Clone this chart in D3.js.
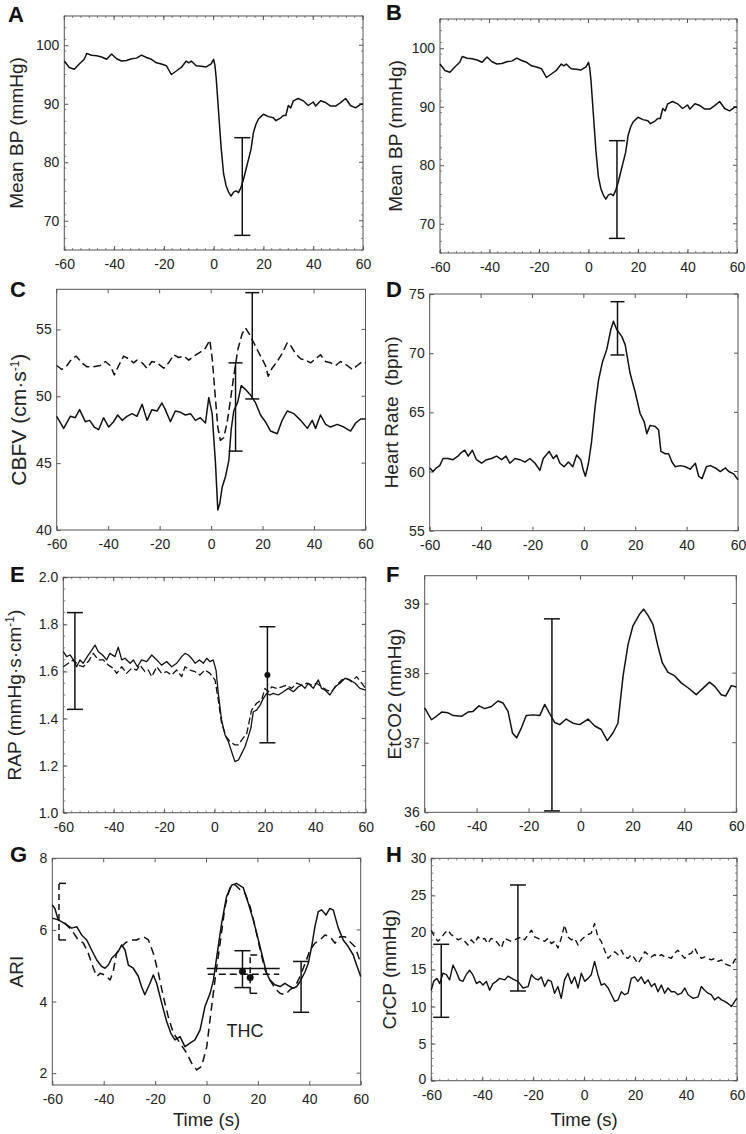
<!DOCTYPE html>
<html><head><meta charset="utf-8">
<script src="https://cdn.jsdelivr.net/npm/d3@7"></script>
<style>body{margin:0;background:#fff}</style>
</head><body><svg id="c" width="746" height="1134"></svg>
<script>
// ---------------- DATA ----------------
const xTicks = [-60,-40,-20,0,20,40,60];
const bpTicks = [70,80,90,100];
const cbfvTicks = [40,45,50,55];
const hrTicks = [55,60,65,70,75];
const rapTicks = [1.0,1.2,1.4,1.6,1.8,2.0];
const co2Ticks = [36,37,38,39];
const ariTicks = [2,4,6,8];
const crcpTicks = [0,5,10,15,20,25,30];

// Mean BP (panels A and B)
const bpT = [-60,-58,-56,-54,-52,-51,-49,-47,-45,-43,-41,-39,-37,-35,-33,-31,-29,-27,-25,-23,-21,-19,-17,-15,-13,-11,-10,-9,-7,-5,-3,-1,0,0.5,1,2,3,4,5,6,7,8,9,10,11,12,13,14,15,16,17,18,19,20,22,24,25,27,28,29,30,31,32,34,36,38,40,41,43,45,47,49,51,53,55,57,59,60];
const bpV = [97.3,96.2,95.9,96.8,97.6,98.6,98.3,98.2,98.0,97.6,98.5,97.7,97.3,97.4,97.7,97.8,98.3,97.9,97.6,97.0,96.8,96.5,95.0,95.6,96.2,97.3,97.0,97.3,96.5,96.4,96.3,96.8,97.6,96.6,94.5,88.5,82.5,78.0,76.0,74.9,74.2,74.9,75.1,74.8,75.7,77.1,78.8,80.5,82.2,85.1,86.5,87.4,87.8,88.2,87.8,87.6,87.1,87.6,88.0,88.0,89.7,89.3,90.5,90.9,90.5,89.7,90.3,89.6,90.5,90.2,89.6,89.6,90.2,90.9,89.7,89.3,89.9,89.9];

// CBFV (panel C)
const cbfvSolidT = [-60,-57.3,-54.7,-52.8,-51.1,-48.9,-47.2,-45.4,-43.7,-41.8,-39.8,-37.9,-36.3,-34.6,-32.7,-30.7,-28.8,-26.8,-24.9,-23.0,-21.0,-19.1,-17.8,-15.8,-13.9,-11.9,-10.0,-8.0,-6.1,-4.2,-2.2,-0.9,0.4,1.7,2.6,3.4,4.3,5.6,6.9,7.8,8.8,10.4,11.7,13.4,15.3,17.3,19.2,21.1,23.1,25.7,27.6,29.6,32.2,34.8,37.4,39.3,40.6,42.5,44.5,46.4,49.0,51.6,54.2,56.2,58.1,60];
const cbfvSolidV = [48.5,47.6,48.5,48.4,49.0,48.1,48.2,47.7,47.5,48.4,47.7,48.1,48.6,48.2,48.5,48.7,48.5,49.4,48.2,49.0,48.9,49.5,49.0,48.1,48.9,48.8,48.6,48.7,48.2,48.4,48.0,49.9,48.7,45.0,41.5,42.0,43.2,44.0,45.2,47.5,48.9,49.6,50.8,50.5,50.1,49.5,48.6,48.1,47.4,47.2,48.2,48.9,48.7,48.2,47.6,48.2,47.6,48.6,47.9,47.7,47.9,47.7,47.4,48.0,48.3,48.3];
const cbfvDashT = [-60,-58.0,-56.0,-54.1,-52.4,-50.2,-48.2,-45.7,-43.1,-41.1,-39.2,-37.6,-35.9,-34.0,-32.0,-30.1,-28.8,-26.8,-24.9,-23.0,-21.0,-18.4,-16.5,-14.5,-12.6,-10.6,-8.7,-6.7,-4.2,-2.2,-0.5,0.5,1.4,2.6,3.6,4.9,6.2,7.5,8.8,10.4,12.1,13.4,14.7,16.3,17.9,19.8,21.1,22.2,23.7,25.7,27.6,29.6,30.9,32.8,34.8,36.7,38.7,40.6,42.5,44.5,46.4,48.4,50.3,52.9,54.9,56.8,58.8,60];
const cbfvDashV = [52.3,52.0,52.3,52.8,53.0,52.5,52.2,52.2,52.3,52.6,52.3,51.6,52.3,53.0,52.8,52.5,52.7,52.5,52.1,52.6,52.5,52.1,52.5,53.1,52.9,53.0,52.7,53.0,53.3,53.6,54.2,52.7,50.5,47.7,46.7,46.9,48.0,49.7,51.5,53.5,54.7,55.1,54.7,54.1,53.5,52.8,52.3,51.5,52.1,52.6,53.2,54.0,53.8,53.2,52.8,52.7,52.5,52.8,53.1,52.6,52.5,52.3,52.6,52.3,52.0,52.3,52.6,52.5];

// Heart rate (panel D)
const hrT = [-60,-58.7,-57.4,-56.1,-54.8,-52.9,-50.9,-49.0,-47.7,-46.4,-45.0,-43.4,-41.8,-39.8,-37.9,-35.9,-34.0,-32.0,-30.3,-28.8,-26.8,-24.9,-22.9,-21.0,-19.0,-17.1,-15.8,-13.5,-11.9,-10.6,-9.3,-7.7,-6.0,-4.3,-2.8,-1.2,-0.2,0.6,1.8,3.0,4.4,5.7,7.3,8.9,10.5,11.5,12.8,14.8,16.1,18.0,20.0,21.9,23.5,24.5,25.8,27.8,29.1,30.0,31.7,33.0,34.3,35.6,37.5,39.5,41.4,43.4,44.7,46.0,47.7,49.2,51.2,53.1,55.1,56.4,58.3,60];
const hrV = [60.3,60.0,60.3,60.5,61.1,61.1,61.0,61.3,61.6,61.8,61.3,61.8,61.0,60.7,61.0,61.1,61.3,61.0,61.3,60.7,61.1,61.0,60.8,61.1,60.7,60.1,61.1,61.7,61.1,61.4,60.7,60.4,60.8,60.4,61.4,61.0,60.1,59.6,60.7,62.5,65.5,67.7,69.3,70.3,72.0,72.7,72.0,71.4,70.7,68.3,66.7,64.9,64.2,63.2,63.9,63.8,63.5,61.7,61.5,61.5,60.8,60.4,60.5,60.4,60.2,60.7,59.6,59.4,60.4,60.5,60.3,60.0,60.3,60.0,59.8,59.3];

// RAP (panel E)
const rapSolidT = [-60,-58.7,-57.3,-56.0,-54.7,-53.4,-52.1,-50.5,-48.7,-47.4,-46.1,-44.4,-42.8,-41.5,-39.5,-38.2,-36.8,-35.5,-33.5,-32.2,-30.6,-28.9,-26.9,-24.9,-22.9,-21.0,-19.0,-17.0,-15.0,-13.0,-11.7,-10.4,-9.1,-7.7,-6.0,-4.4,-3.1,-1.8,-0.5,0.6,1.5,2.8,4.2,5.5,6.8,8.1,9.5,10.8,12.1,13.4,14.4,15.4,16.7,18.1,19.4,20.7,22.0,23.3,25.3,27.3,29.3,31.3,33.3,34.6,35.9,37.2,39.2,41.2,42.5,43.9,45.8,47.8,49.8,51.8,53.8,55.8,57.7,60];
const rapSolidV = [1.684,1.663,1.670,1.649,1.620,1.649,1.635,1.663,1.691,1.712,1.684,1.670,1.649,1.677,1.663,1.703,1.649,1.656,1.635,1.649,1.620,1.649,1.642,1.670,1.649,1.627,1.642,1.620,1.635,1.663,1.677,1.670,1.656,1.635,1.649,1.635,1.656,1.642,1.649,1.606,1.507,1.394,1.330,1.302,1.259,1.217,1.224,1.252,1.280,1.323,1.358,1.429,1.436,1.457,1.486,1.507,1.500,1.507,1.500,1.514,1.528,1.514,1.535,1.542,1.528,1.550,1.528,1.564,1.528,1.521,1.500,1.535,1.550,1.571,1.564,1.550,1.528,1.521];
const rapDashT = [-60,-58.0,-56.0,-54.0,-52.1,-50.1,-48.1,-46.1,-44.1,-42.1,-40.1,-38.8,-36.8,-34.9,-32.9,-30.9,-29.6,-27.6,-26.3,-24.9,-22.9,-21.0,-19.0,-17.0,-15.0,-13.0,-11.7,-9.7,-7.7,-5.8,-3.8,-1.8,0.2,1.5,2.8,4.6,6.2,8.1,9.5,10.8,12.8,14.7,16.7,18.7,20.0,21.4,22.7,24.7,26.7,28.6,30.6,32.6,34.6,36.6,38.6,40.5,42.5,44.5,46.5,48.5,50.5,52.4,54.4,56.4,58.4,60];
const rapDashV = [1.620,1.635,1.649,1.627,1.620,1.642,1.677,1.649,1.649,1.627,1.613,1.592,1.620,1.592,1.613,1.606,1.627,1.599,1.606,1.578,1.620,1.592,1.599,1.585,1.606,1.578,1.620,1.606,1.599,1.585,1.606,1.592,1.564,1.479,1.380,1.323,1.302,1.288,1.288,1.309,1.337,1.436,1.465,1.479,1.528,1.514,1.535,1.528,1.535,1.542,1.528,1.550,1.542,1.550,1.542,1.550,1.535,1.521,1.514,1.542,1.564,1.571,1.557,1.578,1.550,1.528];

// EtCO2 (panel F)
const co2T = [-60,-57.4,-55.5,-53.5,-51.0,-49.0,-45.8,-43.3,-41.4,-39.1,-36.9,-34.3,-31.8,-29.8,-27.9,-26.2,-24.6,-22.8,-20.9,-18.3,-15.7,-13.8,-11.9,-9.9,-8.0,-5.5,-2.9,-0.3,2.9,5.5,8.0,10.3,12.5,14.4,16.4,18.3,20.2,22.8,24.3,26.0,27.9,29.8,31.5,33.7,36.3,38.8,41.4,44.6,46.5,49.7,51.7,54.2,55.9,58.1,60];
const co2V = [37.50,37.33,37.38,37.44,37.43,37.39,37.38,37.44,37.45,37.53,37.49,37.52,37.60,37.57,37.45,37.14,37.07,37.21,37.39,37.40,37.39,37.55,37.42,37.29,37.26,37.34,37.28,37.26,37.34,37.24,37.19,37.03,37.14,37.28,37.96,38.41,38.68,38.85,38.92,38.83,38.70,38.39,38.15,38.01,37.96,37.86,37.79,37.69,37.76,37.87,37.81,37.69,37.67,37.82,37.80];

// ARI (panel G)
const ariSolidT = [-60,-59.0,-57.7,-56.4,-54.4,-52.5,-50.5,-48.6,-46.6,-44.7,-42.7,-40.8,-39.5,-38.2,-36.9,-35.6,-34.3,-33.0,-31.7,-30.4,-28.5,-26.5,-25.3,-24.0,-22.0,-20.7,-19.4,-17.4,-15.5,-13.9,-12.3,-10.3,-8.4,-6.4,-4.5,-2.5,-0.6,1.4,2.7,4.0,5.9,7.8,9.8,11.7,13.0,14.3,16.3,18.2,20.2,22.1,23.4,24.7,26.6,28.6,30.5,32.5,33.8,35.1,36.4,38.4,39.6,40.9,42.2,43.5,44.8,46.5,48.0,49.3,51.3,53.2,55.2,57.1,58.4,60];
const ariSolidV = [6.70,6.60,6.28,6.23,6.14,6.05,6.09,5.86,5.72,5.44,5.16,4.98,4.93,5.02,5.21,5.30,5.40,5.58,5.44,5.02,4.93,4.70,4.42,4.19,4.51,4.74,4.51,3.95,3.44,3.12,2.93,3.02,2.74,2.84,2.93,3.21,3.86,4.23,4.60,5.26,6.19,6.93,7.25,7.30,7.24,7.18,6.74,6.28,5.72,5.16,4.79,4.60,4.47,4.42,4.51,4.42,4.37,4.42,4.56,4.84,5.07,5.53,6.09,6.51,6.56,6.42,6.60,6.56,6.05,5.72,5.53,5.30,5.02,4.70];
const ariDashT = [-60,-57.7,-55.1,-52.5,-49.9,-47.9,-46.0,-44.0,-42.7,-41.4,-39.5,-37.5,-36.3,-35.0,-33.7,-31.7,-29.8,-27.2,-24.6,-22.6,-20.7,-18.7,-16.8,-14.9,-12.9,-10.3,-7.7,-5.8,-3.8,-1.9,0.1,2.0,3.3,5.3,7.2,9.2,11.1,13.1,15.0,17.0,18.9,20.9,22.8,24.7,26.7,28.6,30.6,32.5,34.5,36.4,38.4,40.3,42.2,44.2,46.1,48.1,50.0,51.9,53.9,55.8,57.8,60];
const ariDashV = [6.33,6.28,6.19,6.00,5.72,5.63,5.35,4.93,4.70,4.79,4.74,4.60,4.84,5.35,5.49,5.63,5.72,5.72,5.81,5.72,5.35,4.79,4.14,3.58,3.12,2.84,2.56,2.28,2.09,2.19,2.74,3.86,4.60,5.63,6.65,7.21,7.26,7.12,7.02,6.65,6.09,5.44,4.88,4.60,4.37,4.23,4.19,4.33,4.42,4.70,5.07,5.44,5.63,5.72,5.86,5.81,5.63,5.81,5.81,5.67,5.53,5.07];

// CrCP (panel H)
const crcpSolidT = [-60,-59.1,-57.8,-56.7,-55.4,-54.1,-52.8,-51.5,-50.2,-48.9,-47.6,-46.3,-45.0,-43.7,-42.3,-41.0,-39.7,-38.4,-37.1,-35.8,-34.5,-33.2,-31.2,-29.9,-27.9,-26.0,-24.0,-22.0,-20.7,-19.4,-18.1,-16.8,-15.5,-14.2,-12.9,-11.6,-10.3,-9.0,-7.7,-6.4,-5.0,-3.7,-2.4,-1.1,0.2,1.5,2.8,4.1,5.4,6.7,8.0,9.4,10.7,12.0,13.3,14.6,15.9,17.2,18.5,19.8,21.1,22.4,23.8,25.1,26.4,27.7,29.0,30.3,31.6,32.9,34.2,35.5,36.8,38.2,39.5,40.8,42.8,44.7,46.0,47.3,48.6,49.9,51.2,52.6,53.9,55.2,56.5,57.8,59.1,60];
const crcpSolidV = [12.2,13.4,13.8,13.1,14.5,14.3,13.6,15.6,14.7,13.6,13.4,14.3,14.9,14.3,13.1,13.4,12.9,13.4,12.2,13.1,13.4,13.8,13.6,14.1,13.7,13.4,12.5,12.7,14.3,13.8,13.6,14.0,12.7,13.6,13.4,11.8,12.7,11.1,13.6,14.5,13.1,14.0,12.5,14.5,13.4,13.8,14.3,16.1,14.3,12.9,13.1,12.5,11.6,10.7,10.9,12.0,11.6,11.8,13.8,14.0,13.4,14.0,13.1,13.6,12.7,13.1,12.0,12.9,11.8,12.5,12.0,12.0,11.6,11.8,12.5,11.6,11.1,11.3,12.7,12.2,11.8,11.6,10.9,11.3,10.9,10.7,10.4,10.0,10.7,11.1];
const crcpDashT = [-60,-58.7,-57.4,-56.1,-54.8,-53.5,-52.2,-50.8,-49.5,-48.2,-46.9,-45.6,-44.3,-43.0,-41.7,-40.4,-39.1,-37.8,-36.5,-35.1,-33.8,-32.5,-31.2,-29.9,-28.6,-27.3,-26.0,-24.7,-23.4,-22.0,-20.7,-19.4,-18.1,-16.8,-15.5,-14.2,-12.9,-11.6,-10.3,-9.0,-7.7,-6.4,-5.0,-3.7,-2.4,-1.1,0.2,1.5,2.8,4.1,5.4,6.7,8.0,9.4,10.7,12.0,13.3,14.6,15.9,17.2,18.5,19.8,21.1,22.4,23.8,25.1,26.4,27.7,29.0,30.3,31.6,32.9,34.2,35.5,36.8,38.2,39.5,40.8,42.1,43.4,44.7,46.0,47.3,48.6,49.9,51.2,52.6,53.9,55.2,56.5,57.8,59.1,60];
const crcpDashV = [20.3,19.4,18.8,19.2,19.9,20.3,19.7,19.4,19.0,19.2,18.8,18.3,19.0,18.5,19.4,19.0,19.2,18.5,19.2,19.0,18.5,17.9,19.2,19.0,18.8,19.0,19.2,19.4,19.0,19.7,20.3,19.4,19.2,19.0,18.8,19.2,18.5,18.8,17.9,19.2,21.0,19.4,19.0,19.2,18.3,19.0,19.4,19.7,19.9,21.2,19.4,18.8,17.6,16.5,17.0,17.4,17.0,17.6,16.7,16.5,17.0,16.5,15.8,16.5,17.4,17.0,16.7,17.0,16.7,17.0,16.7,16.7,16.5,17.2,17.6,17.0,16.5,17.0,17.2,17.9,17.0,16.5,16.7,16.5,16.3,16.5,16.1,16.3,15.8,15.6,15.4,16.3,16.5];

// error bars: [time, low, high]
const barsBP = [[11.5,67.5,84.2]];
const barsCBFV = [[9.5,45.9,52.5],[16.0,49.8,57.75]];
const barsHR = [[13.1,69.85,74.35]];
const barsRAP = [[-55.4,1.439,1.850],[21.0,1.297,1.790]];
const dotsRAP = [[21.0,1.585]];
const barsCO2 = [[-11.0,36.02,38.78]];
const barsARIsolid = [[14.0,4.39,5.42],[36.8,3.70,5.12]];
const barsARIdash = [[-57.4,5.72,7.30],[17.0,4.23,5.30]];
const hbarsARIsolid = [[4.92,0.1,28.5]];   // [value, from, to]
const hbarsARIdash = [[4.76,0.5,28.3]];
const dotsARI = [[14.0,4.84],[17.0,4.67]];
const barsCRCP = [[-56.1,8.55,18.4],[-26.0,12.1,26.4]];

// ---------------- DRAWING ----------------
const FONT = '"Liberation Sans", Arial, Helvetica, sans-serif';
const INK = '#111';
const svg = d3.select('#c');
svg.append('rect').attr('width',746).attr('height',1134).attr('fill','#fff');

function panel(cfg){
  const [L,T,R,B] = cfg.box;
  const x = d3.scaleLinear().domain([-60,60]).range([L,R]);
  const y = d3.scaleLinear().domain(cfg.yDom).range([B,T]);
  const g = svg.append('g');

  if (cfg.minor) {
    const xm = d3.range(-60, 60.001, cfg.minor[0]);
    const ym = d3.range(cfg.yDom[0], cfg.yDom[1]+1e-6, cfg.minor[1]);
    const mg = g.append('g').attr('stroke','#666').attr('stroke-width',0.8);
    xm.forEach(v=>{
      mg.append('line').attr('x1',x(v)).attr('x2',x(v)).attr('y1',B).attr('y2',B-2);
      mg.append('line').attr('x1',x(v)).attr('x2',x(v)).attr('y1',T).attr('y2',T+2);
    });
    ym.forEach(v=>{
      mg.append('line').attr('y1',y(v)).attr('y2',y(v)).attr('x1',L).attr('x2',L+2);
      mg.append('line').attr('y1',y(v)).attr('y2',y(v)).attr('x1',R).attr('x2',R-2);
    });
  }
  const tg = g.append('g').attr('stroke','#555').attr('stroke-width',1);
  xTicks.forEach(v=>tg.append('line').attr('x1',x(v)).attr('x2',x(v)).attr('y1',T).attr('y2',T+4));
  cfg.yTicks.forEach(v=>tg.append('line').attr('y1',y(v)).attr('y2',y(v)).attr('x1',R).attr('x2',R-4));

  const ax = g.append('g').attr('transform',`translate(0,${B})`)
    .call(d3.axisBottom(x).tickValues(xTicks).tickSize(-4).tickPadding(9).tickFormat(d=>String(d)));
  const ay = g.append('g').attr('transform',`translate(${L},0)`)
    .call(d3.axisLeft(y).tickValues(cfg.yTicks).tickSize(-4).tickPadding(5).tickFormat(cfg.fmt || (d=>String(d))));
  [ax,ay].forEach(a=>{
    a.select('.domain').remove();
    a.selectAll('line').attr('stroke','#555');
    a.selectAll('text').attr('font-size',14).attr('fill','#222').attr('font-family',FONT);
  });
  if (cfg.nudgeBottomY) {
    ay.selectAll('.tick').filter(d=>d===cfg.yDom[0]).select('text').attr('y',-2);
  }

  g.append('rect').attr('x',L).attr('y',T).attr('width',R-L).attr('height',B-T)
    .attr('fill','none').attr('stroke','#555').attr('stroke-width',1);

  const line = d3.line().x(d=>x(d[0])).y(d=>y(d[1]));
  cfg.series.forEach(s=>{
    g.append('path').datum(d3.zip(s.t,s.v)).attr('d',line)
      .attr('fill','none').attr('stroke',INK).attr('stroke-width',cfg.lw||1.5)
      .attr('stroke-linejoin','round')
      .attr('stroke-dasharray',s.dash||null);
  });

  (cfg.bars||[]).forEach(set=>{
    set.data.forEach(b=>{
      const X = x(b[0]);
      const bg = g.append('g').attr('stroke',INK).attr('stroke-width',1.5).attr('fill','none');
      bg.append('line').attr('x1',X).attr('x2',X).attr('y1',y(b[1])).attr('y2',y(b[2]))
        .attr('stroke-dasharray',set.dash||null);
      const c0 = set.right ? X : X - set.cap, c1 = X + set.cap;
      [b[1],b[2]].forEach(v=>bg.append('line').attr('x1',c0).attr('x2',c1).attr('y1',y(v)).attr('y2',y(v)));
    });
  });
  (cfg.hbars||[]).forEach(set=>{
    set.data.forEach(b=>{
      g.append('line').attr('x1',x(b[1])).attr('x2',x(b[2])).attr('y1',y(b[0])).attr('y2',y(b[0]))
        .attr('stroke',INK).attr('stroke-width',1.5).attr('stroke-dasharray',set.dash||null);
    });
  });
  (cfg.dots||[]).forEach(set=>{
    set.data.forEach(d=>g.append('circle').attr('cx',x(d[0])).attr('cy',y(d[1])).attr('r',set.r).attr('fill',INK));
  });

  const yl = g.append('text').attr('transform',`translate(${cfg.ylx},${(T+B)/2 + (cfg.yloff||0)}) rotate(-90)`)
    .attr('text-anchor','middle').attr('font-family',FONT).attr('font-size',cfg.ylfs||19).attr('fill','#222')
    .style('white-space','pre');
  cfg.ylabel.forEach(part=>{
    if (part.sup) yl.append('tspan').attr('font-size',12).attr('dy',-7).text(part.sup);
    else if (part.after) yl.append('tspan').attr('dy',7).text(part.after);
    else yl.append('tspan').text(part.t);
  });
  g.append('text').attr('x',cfg.letterPos[0]).attr('y',cfg.letterPos[1]).text(cfg.letter)
    .attr('font-family',FONT).attr('font-weight','bold').attr('font-size',22).attr('fill','#111');
  if (cfg.xlabel) {
    g.append('text').attr('x',(L+R)/2).attr('y',1126).attr('text-anchor','middle')
      .attr('font-family',FONT).attr('font-size',18.5).attr('fill','#222').text('Time (s)');
  }
  return {x,y,g};
}

const capW = 8;
panel({letter:'A',letterPos:[8,22],box:[64.3,16,363,250],yDom:[65,105],yTicks:bpTicks,minor:[20/6,2],
  ylx:23,ylabel:[{t:'Mean BP (mmHg)'}],series:[{t:bpT,v:bpV}],
  bars:[{data:barsBP,cap:capW}]});
panel({letter:'B',letterPos:[386,20],box:[440,19,737,253],yDom:[65,105],yTicks:bpTicks,minor:[20/6,2],
  ylx:402,ylabel:[{t:'Mean BP (mmHg)'}],series:[{t:bpT,v:bpV}],
  bars:[{data:barsBP,cap:capW}]});
panel({letter:'C',letterPos:[10,297],box:[56.7,289.3,365.5,530],yDom:[40,58],yTicks:cbfvTicks,
  ylx:26,yloff:10,ylfs:21,ylabel:[{t:'CBFV (cm·s'},{sup:'-1'},{after:')'}],
  series:[{t:cbfvSolidT,v:cbfvSolidV},{t:cbfvDashT,v:cbfvDashV,dash:'8,4'}],
  bars:[{data:barsCBFV,cap:7}]});
panel({letter:'D',letterPos:[386,297],box:[429.7,294,738,530.7],yDom:[55,75],yTicks:hrTicks,
  ylx:398,ylabel:[{t:'Heart Rate  (bpm)'}],series:[{t:hrT,v:hrV}],
  bars:[{data:barsHR,cap:7}]});
panel({letter:'E',letterPos:[10,582],box:[63.3,577.3,365.7,812.7],yDom:[1,2],yTicks:rapTicks,minor:[20/6,0.05],
  fmt:d3.format('.1f'),lw:1.3,
  ylx:21,ylabel:[{t:'RAP (mmHg·s·cm'},{sup:'-1'},{after:')'}],
  series:[{t:rapSolidT,v:rapSolidV},{t:rapDashT,v:rapDashV,dash:'7,3'}],
  bars:[{data:barsRAP,cap:capW}],dots:[{data:dotsRAP,r:3}]});
panel({letter:'F',letterPos:[386,582],box:[424.7,575.7,736.3,812.3],yDom:[36,39.4],yTicks:co2Ticks,
  ylx:401,ylabel:[{t:'EtCO2 (mmHg)'}],series:[{t:co2T,v:co2V}],
  bars:[{data:barsCO2,cap:capW}]});
const pg = panel({letter:'G',letterPos:[10,862],box:[52.3,858.3,360.7,1085],yDom:[1.67,8],yTicks:ariTicks,xlabel:true,
  ylx:23,ylabel:[{t:'ARI'}],
  series:[{t:ariSolidT,v:ariSolidV},{t:ariDashT,v:ariDashV,dash:'8,5'}],
  bars:[{data:barsARIsolid,cap:capW},{data:barsARIdash,cap:7,right:true,dash:'6,4'}],
  hbars:[{data:hbarsARIsolid},{data:hbarsARIdash,dash:'7,4'}],
  dots:[{data:dotsARI,r:3.5}]});
pg.g.append('text').attr('x',pg.x(15)).attr('y',pg.y(3.0)).attr('text-anchor','middle')
  .attr('font-family',FONT).attr('font-size',18).attr('fill','#222').text('THC');
panel({letter:'H',letterPos:[386,862],box:[431.3,858.3,737,1080.7],yDom:[0,30],yTicks:crcpTicks,minor:[20/6,1],xlabel:true,
  lw:1.4,ylx:396,nudgeBottomY:true,ylabel:[{t:'CrCP (mmHg)'}],
  series:[{t:crcpSolidT,v:crcpSolidV},{t:crcpDashT,v:crcpDashV,dash:'6,4'}],
  bars:[{data:barsCRCP,cap:capW}]});
</script>
</body></html>
